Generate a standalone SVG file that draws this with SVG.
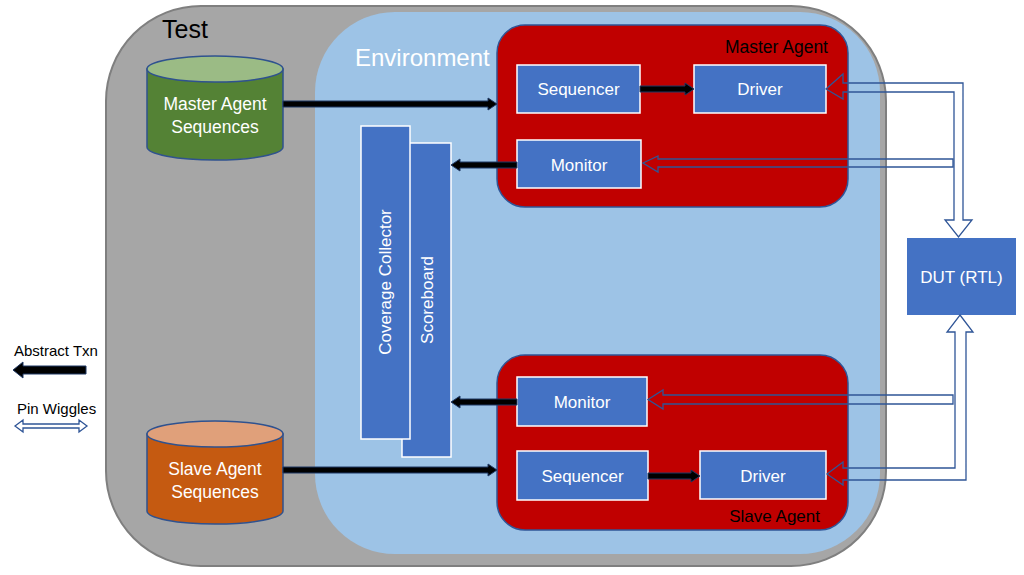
<svg xmlns="http://www.w3.org/2000/svg" width="1024" height="575" viewBox="0 0 1024 575">
<style>
text{font-family:"Liberation Sans",Arial,sans-serif}
.w{fill:#fff}
.blk{fill:#000}
.box{fill:#4472C4;stroke:#fff;stroke-width:1.5}
.agent{fill:#C00000;stroke:#2F5597;stroke-width:1.5}
.cyl{stroke:#2F528F;stroke-width:1.5}
.ta{fill:#000;stroke:#1F3864;stroke-width:1}
.pin{fill:none;stroke:#2F5597;stroke-width:1.3;stroke-linejoin:miter}
</style>
<rect width="1024" height="575" fill="#fff"/>
<g id="test">
<rect x="106" y="6" width="780" height="560" rx="95" fill="#A6A6A6" stroke="#7F7F7F" stroke-width="2"/>
<text x="162" y="38" font-size="25" class="blk">Test</text>
</g>
<g id="environment">
<rect x="315" y="12" width="565" height="542" rx="80" fill="#9DC3E6"/>
<text x="355" y="66" font-size="24" class="w">Environment</text>
</g>
<g id="master-seq">
<path class="cyl" fill="#548235" d="M147,69 V147 A68,13 0 0 0 283,147 V69 Z"/>
<ellipse class="cyl" cx="215" cy="69" rx="68" ry="13" fill="#9BBB85"/>
<text x="215" y="110" font-size="17.5" text-anchor="middle" class="w">Master Agent</text>
<text x="215" y="133" font-size="17.5" text-anchor="middle" class="w">Sequences</text>
</g>
<g id="slave-seq">
<path class="cyl" fill="#C55A11" d="M147,434 V511 A68,13 0 0 0 283,511 V434 Z"/>
<ellipse class="cyl" cx="215" cy="434" rx="68" ry="13" fill="#E0A07A"/>
<text x="215" y="475" font-size="17.5" text-anchor="middle" class="w">Slave Agent</text>
<text x="215" y="498" font-size="17.5" text-anchor="middle" class="w">Sequences</text>
</g>
<g id="master-agent">
<rect class="agent" x="497" y="25" width="351" height="182" rx="28"/>
<text x="828" y="53" font-size="17.5" text-anchor="end" class="blk">Master Agent</text>
</g>
<g id="master-sequencer"><rect class="box" x="517" y="65" width="123" height="48"/><text x="578.5" y="95" font-size="17" text-anchor="middle" class="w">Sequencer</text></g>
<g id="master-driver"><rect class="box" x="694" y="65" width="132" height="48"/><text x="760" y="95" font-size="17" text-anchor="middle" class="w">Driver</text></g>
<g id="master-monitor"><rect class="box" x="517" y="140" width="124" height="48"/><text x="579" y="171" font-size="17" text-anchor="middle" class="w">Monitor</text></g>
<g id="slave-agent">
<rect class="agent" x="497" y="355" width="351" height="175" rx="28"/>
<text x="820" y="522" font-size="17" text-anchor="end" class="blk">Slave Agent</text>
</g>
<g id="slave-monitor"><rect class="box" x="517" y="377" width="130" height="49"/><text x="582" y="408" font-size="17" text-anchor="middle" class="w">Monitor</text></g>
<g id="slave-sequencer"><rect class="box" x="517" y="451" width="131" height="49"/><text x="582.5" y="482" font-size="17" text-anchor="middle" class="w">Sequencer</text></g>
<g id="slave-driver"><rect class="box" x="700" y="451" width="126" height="48"/><text x="763" y="482" font-size="17" text-anchor="middle" class="w">Driver</text></g>
<g id="scoreboard"><rect class="box" x="402" y="143" width="49" height="314"/><text transform="translate(433,300) rotate(-90)" x="0" y="0" font-size="17" text-anchor="middle" class="w">Scoreboard</text></g>
<g id="coverage"><rect class="box" x="361" y="126" width="49" height="313"/><text transform="translate(391,282) rotate(-90)" x="0" y="0" font-size="17" text-anchor="middle" class="w">Coverage Collector</text></g>
<g id="dut"><rect x="907" y="238" width="109" height="77" fill="#4472C4"/><text x="961.5" y="283" font-size="17" text-anchor="middle" class="w">DUT (RTL)</text></g>
<g id="legend">
<text x="14" y="356" font-size="15" class="blk">Abstract Txn</text>
<text x="17" y="414" font-size="15" class="blk">Pin Wiggles</text>
</g>
<g id="connectors">
<path class="ta" d="M283,101 H488 V98 L497,104 L488,110 V107 H283 Z"/>
<path class="ta" d="M640,86 H685 V83 L694,89 L685,95 V92 H640 Z"/>
<path class="ta" d="M517,162 H460 V159 L451,165 L460,171 V168 H517 Z"/>
<path class="ta" d="M517,399 H460 V396 L451,402 L460,408 V405 H517 Z"/>
<path class="ta" d="M283,467 H488 V464 L497,470 L488,476 V473 H283 Z"/>
<path class="ta" d="M648,473 H691 V470 L700,476 L691,482 V479 H648 Z"/>
<path class="ta" d="M86,366 H23 V362 L13,370 L23,378 V374 H86 Z"/>
<path class="pin" d="M826,89 L843,74 V83 H963 V220 H972 L958.5,237 L945,220 H954 V92 H843 V99 Z"/>
<path class="pin" d="M643,163 L658,156 V159 H953 V167 H658 V172 Z"/>
<path class="pin" d="M960,315 L973,332 H966 V480 H843 V485 L827,474 L843,462 V468 H955 V332 H947 Z"/>
<path class="pin" d="M648,399.5 L663,390 V395 H953 V404 H663 V409 Z"/>
<path class="pin" d="M15,426 L23,420 V424 H79 V420 L87,426 L79,432 V428 H23 V432 Z"/>
</g>
</svg>
